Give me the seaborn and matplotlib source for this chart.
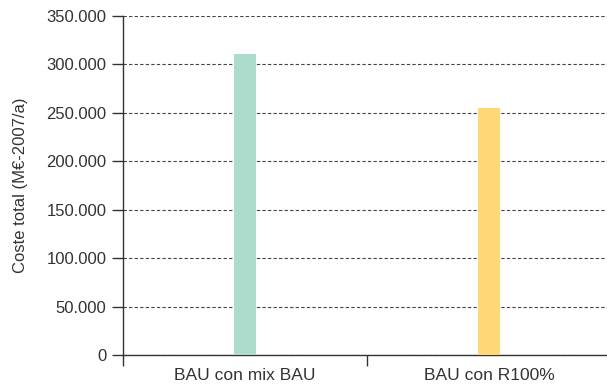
import numpy as np
import pandas as pd
import matplotlib
matplotlib.use("Agg")
import matplotlib.pyplot as plt
from matplotlib.ticker import FuncFormatter, FixedLocator
import seaborn as sns

# Data
scenarios = ["BAU con mix BAU", "BAU con R100%"]
coste_total = [310800, 255000]
bar_colors = ["#addccd", "#fed776"]
y_ticks = [0, 50000, 100000, 150000, 200000, 250000, 300000, 350000]

df = pd.DataFrame({"escenario": scenarios, "coste": coste_total})

sns.set_style("ticks")
plt.rcParams["font.family"] = ["Liberation Sans", "DejaVu Sans"]
text_color = "#333333"

fig = plt.figure(figsize=(6.07, 3.84), dpi=100)
ax = fig.add_axes([123 / 607, 1 - 355 / 384, 488 / 607, 339 / 384])

sns.barplot(data=df, x="escenario", y="coste", hue="escenario",
            palette=bar_colors, width=0.09, legend=False, ax=ax,
            saturation=1, linewidth=0, zorder=3)

ax.set_xlim(-0.5, 1.5)
ax.set_ylim(0, 350000)
ax.set_yticks(y_ticks)
ax.yaxis.set_major_formatter(FuncFormatter(lambda v, p: f"{int(v):,}".replace(",", ".")))

# dashed horizontal grid
ax.yaxis.grid(True, linestyle=(0, (3, 2)), color="#444444", linewidth=0.8, zorder=0)
ax.xaxis.grid(False)
ax.set_axisbelow(True)

for side in ["top", "right"]:
    ax.spines[side].set_visible(False)
for side in ["left", "bottom"]:
    ax.spines[side].set_color(text_color)
    ax.spines[side].set_linewidth(1.0)

# category labels centered, ticks on category boundaries
ax.xaxis.set_minor_locator(FixedLocator([-0.5, 0.5, 1.5]))
ax.tick_params(axis="x", which="major", bottom=True, length=0, pad=9,
               labelsize=12.5, labelcolor=text_color)
ax.tick_params(axis="x", which="minor", bottom=True, length=8, width=1.0,
               color=text_color, direction="out")
ax.tick_params(axis="y", which="major", left=True, length=8, width=1.0,
               color=text_color, direction="out", pad=4,
               labelsize=12, labelcolor=text_color)
ax.tick_params(axis="y", which="minor", left=False)

ax.set_xlabel("")
ax.set_ylabel("Coste total (M€-2007/a)", fontsize=12, color=text_color)
ax.yaxis.set_label_coords(-0.195, 0.5)

fig.savefig("out.png", dpi=100)
